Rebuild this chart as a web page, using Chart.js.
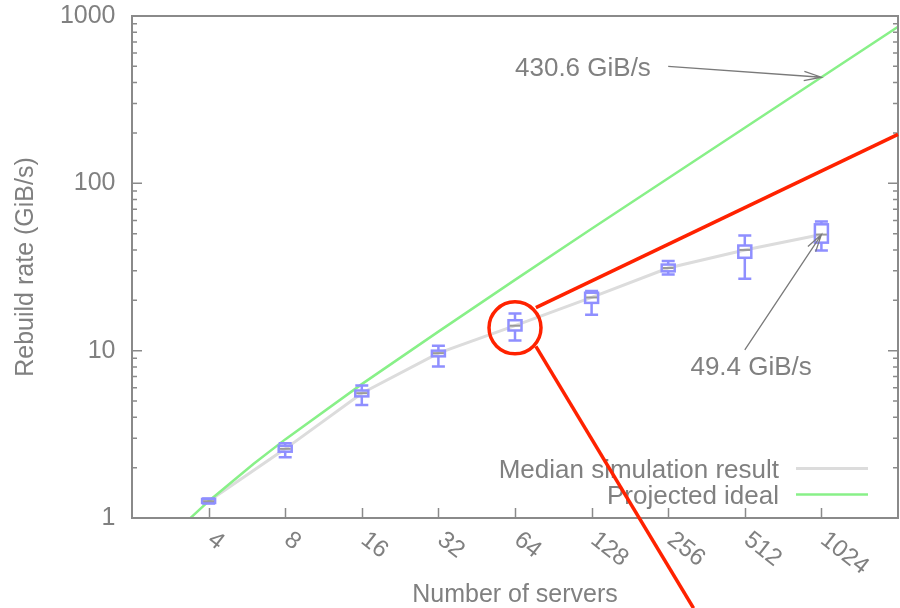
<!DOCTYPE html>
<html>
<head>
<meta charset="utf-8">
<title>Rebuild rate vs. number of servers</title>
<script src="https://cdn.jsdelivr.net/npm/chart.js@4.4.1/dist/chart.umd.min.js"></script>
<style>
  html, body { margin: 0; padding: 0; background: #ffffff; }
  #wrap { width: 900px; height: 608px; position: relative; }
  canvas { display: block; }
</style>
</head>
<body>
<div id="wrap"><canvas id="chart" width="900" height="608"></canvas></div>
<script>
// Cluster sizes (x) and simulated rebuild rates in GiB/s (box-plot summary per size)
const servers    = [4, 8, 16, 32, 64, 128, 256, 512, 1024];
const rateMedian = [1.26, 2.59, 5.57, 9.66, 14.1, 20.8, 31.2, 40.0, 49.4];
const rateQ1     = [1.23, 2.49, 5.33, 9.25, 13.2, 19.3, 29.8, 35.9, 44.2];
const rateQ3     = [1.30, 2.70, 5.78, 10.0, 15.2, 22.2, 32.7, 42.5, 56.9];
const rateMin    = [1.22, 2.31, 4.73, 8.05, 11.5, 16.4, 28.5, 26.9, 39.7];
const rateMax    = [1.31, 2.80, 6.20, 10.7, 16.7, 22.7, 34.3, 48.8, 59.2];

// Projected ideal rebuild rate
const idealServers = [2, 3, 4, 6, 8, 16, 32, 64, 128, 256, 512, 1024, 2048];
const idealRate    = [0.42, 0.84, 1.26, 2.10, 2.95, 6.31, 13.0, 26.5, 53.5, 107.3, 215.1, 430.6, 861.6];

// Axis ticks
const xTickValues = [4, 8, 16, 32, 64, 128, 256, 512, 1024];
const yTickValues = [1, 10, 100, 1000];

// Callouts: label text, label anchor (data units), arrow start and arrow tip (data units)
const callouts = [
  { text: '430.6 GiB/s', at: [64, 440], from: [256, 500], to: [1024, 430.6] },
  { text: '49.4 GiB/s',  at: [313, 7.16], from: [512, 10.1], to: [1024, 49.4] }
];

// Highlight around the 64-server result and its two guide lines (data units)
const focusPoint = [64, 13.7];
const focusUpperLine = [[77.3, 18.1], [2048, 196]];
const focusLowerLine = [[77.3, 10.6], [322, 0.289]];

const FONT = "'Liberation Sans', Arial, Helvetica, sans-serif";
const TEXT_GRAY = '#808080';
const FRAME_GRAY = '#8a8a8a';
const BOX_BLUE = '#8f8fff';
const MEDIAN_GRAY = '#dcdcdc';
const IDEAL_GREEN = '#88f088';
const FOCUS_RED = '#ff2200';

function px(chart, pt) {
  return [chart.scales.x.getPixelForValue(pt[0]), chart.scales.y.getPixelForValue(pt[1])];
}

function drawArrow(ctx, x0, y0, x1, y1) {
  const ang = Math.atan2(y1 - y0, x1 - x0);
  const len = 18, spread = 15 * Math.PI / 180;
  ctx.beginPath();
  ctx.moveTo(x0, y0);
  ctx.lineTo(x1, y1);
  ctx.moveTo(x1 - len * Math.cos(ang - spread), y1 - len * Math.sin(ang - spread));
  ctx.lineTo(x1, y1);
  ctx.lineTo(x1 - len * Math.cos(ang + spread), y1 - len * Math.sin(ang + spread));
  ctx.stroke();
}

const decorPlugin = {
  id: 'decor',
  afterDatasetsDraw(chart) {
    const ctx = chart.ctx;
    const xs = chart.scales.x, ys = chart.scales.y;
    const area = chart.chartArea;

    // Box plots
    ctx.save();
    ctx.lineCap = 'butt';
    const half = 6.5;
    servers.forEach((n, i) => {
      const x = xs.getPixelForValue(n);
      const yMin = ys.getPixelForValue(rateMin[i]);
      const yMax = ys.getPixelForValue(rateMax[i]);
      const yQ1 = ys.getPixelForValue(rateQ1[i]);
      const yQ3 = ys.getPixelForValue(rateQ3[i]);
      const yMed = ys.getPixelForValue(rateMedian[i]);
      ctx.strokeStyle = BOX_BLUE;
      ctx.lineWidth = 2.5;
      ctx.beginPath();
      // whiskers
      ctx.moveTo(x, yQ3); ctx.lineTo(x, yMax);
      ctx.moveTo(x, yQ1); ctx.lineTo(x, yMin);
      // caps
      ctx.moveTo(x - half, yMax); ctx.lineTo(x + half, yMax);
      ctx.moveTo(x - half, yMin); ctx.lineTo(x + half, yMin);
      ctx.stroke();
      // box
      ctx.strokeRect(x - half, yQ3, half * 2, Math.max(yQ1 - yQ3, 1));
      // median mark
      ctx.strokeStyle = '#9a9a9a';
      ctx.lineWidth = 2;
      ctx.beginPath();
      ctx.moveTo(x - half + 1, yMed); ctx.lineTo(x + half - 1, yMed);
      ctx.stroke();
    });
    ctx.restore();

    // Frame and tick marks
    ctx.save();
    ctx.strokeStyle = FRAME_GRAY;
    ctx.lineWidth = 2;
    ctx.strokeRect(area.left, area.top, area.right - area.left, area.bottom - area.top);
    ctx.lineWidth = 1.5;
    ctx.beginPath();
    xTickValues.forEach(v => {
      const x = Math.round(xs.getPixelForValue(v)) + 0.5;
      ctx.moveTo(x, area.bottom); ctx.lineTo(x, area.bottom - 10);
    });
    for (let d = 0; d < yTickValues.length; d++) {
      const base = yTickValues[d];
      const y = ys.getPixelForValue(base);
      ctx.moveTo(area.left, y); ctx.lineTo(area.left + 10, y);
      ctx.moveTo(area.right, y); ctx.lineTo(area.right - 10, y);
      if (d < yTickValues.length - 1) {
        for (let m = 2; m <= 9; m++) {
          const ym = ys.getPixelForValue(base * m);
          ctx.moveTo(area.left, ym); ctx.lineTo(area.left + 5, ym);
          ctx.moveTo(area.right, ym); ctx.lineTo(area.right - 5, ym);
        }
      }
    }
    ctx.stroke();
    ctx.restore();
  },
  afterDraw(chart) {
    const ctx = chart.ctx;
    const xs = chart.scales.x;
    const area = chart.chartArea;

    // Rotated x tick labels
    ctx.save();
    ctx.fillStyle = TEXT_GRAY;
    ctx.font = `24px ${FONT}`;
    ctx.textAlign = 'left';
    ctx.textBaseline = 'middle';
    xTickValues.forEach(v => {
      const x = xs.getPixelForValue(v);
      ctx.save();
      ctx.translate(x + 2, area.bottom + 19);
      ctx.rotate(38 * Math.PI / 180);
      ctx.fillText(String(v), 0, 0);
      ctx.restore();
    });
    ctx.restore();

    // Axis titles
    ctx.save();
    ctx.fillStyle = TEXT_GRAY;
    ctx.font = `25px ${FONT}`;
    ctx.textAlign = 'center';
    ctx.textBaseline = 'alphabetic';
    ctx.fillText('Number of servers', (area.left + area.right) / 2, 601.5);
    ctx.save();
    ctx.translate(33, (area.top + area.bottom) / 2);
    ctx.rotate(-Math.PI / 2);
    ctx.fillText('Rebuild rate (GiB/s)', 0, 0);
    ctx.restore();
    ctx.restore();

    // Legend (inside the plot, lower right)
    ctx.save();
    ctx.font = `26px ${FONT}`;
    ctx.textAlign = 'right';
    ctx.textBaseline = 'alphabetic';
    chart.data.datasets.forEach((ds, k) => {
      const cy = area.bottom - 49.5 + k * 26;
      ctx.fillStyle = TEXT_GRAY;
      ctx.fillText(ds.label, area.right - 119, cy + 9.3);
      ctx.strokeStyle = ds.borderColor;
      ctx.lineWidth = ds.borderWidth;
      ctx.beginPath();
      ctx.moveTo(area.right - 102, cy);
      ctx.lineTo(area.right - 30, cy);
      ctx.stroke();
    });
    ctx.restore();

    // Callouts with arrows
    ctx.save();
    ctx.font = `26px ${FONT}`;
    ctx.textAlign = 'left';
    ctx.textBaseline = 'alphabetic';
    callouts.forEach(c => {
      const [tx, ty] = px(chart, c.at);
      ctx.fillStyle = TEXT_GRAY;
      ctx.fillText(c.text, tx, ty);
      const [x0, y0] = px(chart, c.from);
      const [x1, y1] = px(chart, c.to);
      ctx.strokeStyle = '#7a7a7a';
      ctx.lineWidth = 1.3;
      drawArrow(ctx, x0, y0, x1, y1);
    });
    ctx.restore();

    // Highlight circle and guide lines
    ctx.save();
    ctx.strokeStyle = FOCUS_RED;
    ctx.lineWidth = 3.5;
    const [cx, cy] = px(chart, focusPoint);
    ctx.beginPath();
    ctx.arc(cx, cy, 26, 0, Math.PI * 2);
    ctx.stroke();
    [focusUpperLine, focusLowerLine].forEach(seg => {
      const [a0, b0] = px(chart, seg[0]);
      const [a1, b1] = px(chart, seg[1]);
      ctx.beginPath();
      ctx.moveTo(a0, b0);
      ctx.lineTo(a1, b1);
      ctx.stroke();
    });
    ctx.restore();
  }
};

const chart = new Chart(document.getElementById('chart'), {
  type: 'scatter',
  data: {
    datasets: [
      {
        label: 'Median simulation result',
        data: servers.map((n, i) => ({ x: n, y: rateMedian[i] })),
        showLine: true,
        borderColor: MEDIAN_GRAY,
        borderWidth: 3,
        pointRadius: 0,
        order: 2
      },
      {
        label: 'Projected ideal',
        data: idealServers.map((n, i) => ({ x: n, y: idealRate[i] })),
        showLine: true,
        borderColor: IDEAL_GREEN,
        borderWidth: 2.5,
        pointRadius: 0,
        order: 1
      }
    ]
  },
  options: {
    responsive: false,
    animation: false,
    devicePixelRatio: 1,
    layout: { padding: { left: 0, right: 2, top: 16, bottom: 0 } },
    plugins: { legend: { display: false }, tooltip: { enabled: false } },
    scales: {
      x: {
        type: 'logarithmic',
        min: 2,
        max: 2048,
        grid: { display: false, drawTicks: false },
        border: { display: false },
        ticks: { display: false },
        afterBuildTicks: s => { s.ticks = xTickValues.map(v => ({ value: v })); },
        afterFit: s => { s.height = 90; s.paddingLeft = 0; s.paddingRight = 0; }
      },
      y: {
        type: 'logarithmic',
        min: 1,
        max: 1000,
        grid: { display: false, drawTicks: false },
        border: { display: false },
        ticks: {
          color: TEXT_GRAY,
          font: { family: FONT, size: 25 },
          padding: 16.5,
          callback: v => String(v)
        },
        afterBuildTicks: s => { s.ticks = yTickValues.map(v => ({ value: v })); },
        afterFit: s => { s.width = 132; s.paddingTop = 0; s.paddingBottom = 0; }
      }
    }
  },
  plugins: [decorPlugin]
});
</script>
</body>
</html>
